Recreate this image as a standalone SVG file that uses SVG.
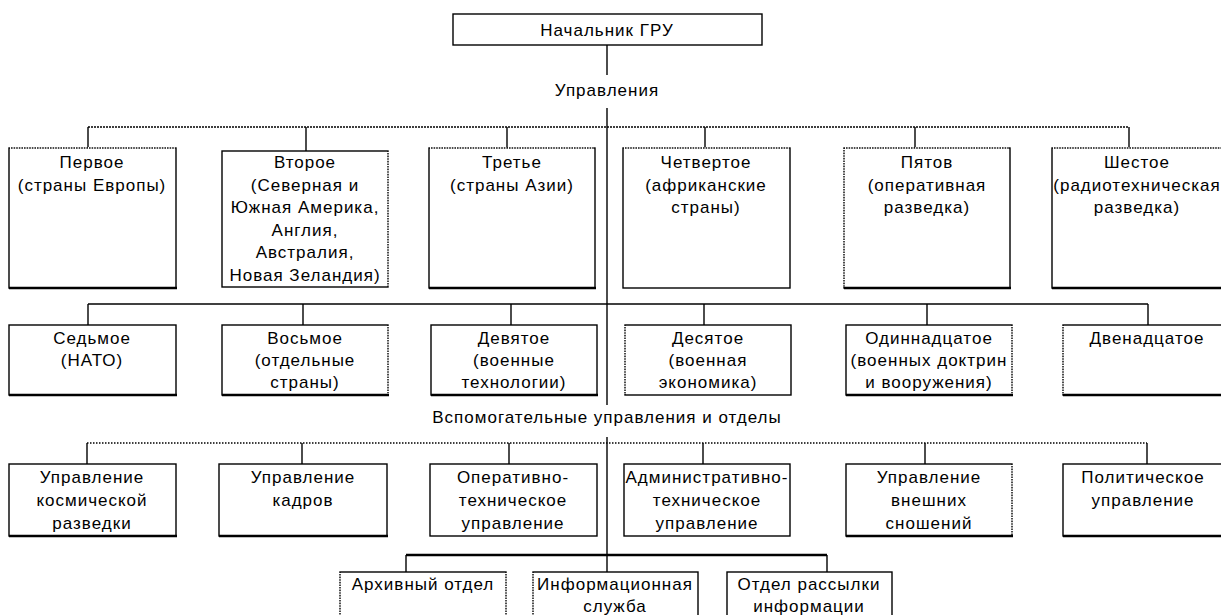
<svg xmlns="http://www.w3.org/2000/svg" width="1221" height="615" viewBox="0 0 1221 615">
<style>
  .box { fill: #fff; stroke: #000; stroke-width: 1.4; }
  .bot { stroke: #000; stroke-width: 2.4; fill: none; }
  .dot { stroke: #fff; stroke-width: 2; stroke-dasharray: 1 1.6; fill: none; }
  .ln { stroke: #000; stroke-width: 1.4; fill: none; }
  .dl { stroke: #000; stroke-width: 1.4; fill: none; stroke-dasharray: 2 1; }
  .dl2 { stroke: #000; stroke-width: 1.4; fill: none; stroke-dasharray: 1.5 1.5; }
  .thick { stroke: #000; stroke-width: 2.4; fill: none; }
  text { font-family: "Liberation Sans", Arial, sans-serif; font-size: 17px; letter-spacing: 1px; fill: #000; text-anchor: middle; }
</style>
<rect x="0" y="0" width="1221" height="615" fill="#fff"/>

<g id="connectors">
  <line class="ln" x1="607" y1="45" x2="607" y2="75"/>
  <line class="ln" x1="607" y1="108" x2="607" y2="405"/>
  <line class="ln" x1="607" y1="437" x2="607" y2="572"/>
  <!-- tier 1 -->
  <line class="dl" x1="88" y1="127" x2="1129" y2="127"/>
  <line class="ln" x1="88" y1="127" x2="88" y2="148"/>
  <line class="ln" x1="306" y1="127" x2="306" y2="151"/>
  <line class="ln" x1="507" y1="127" x2="507" y2="148"/>
  <line class="ln" x1="705" y1="127" x2="705" y2="148"/>
  <line class="ln" x1="915" y1="127" x2="915" y2="148"/>
  <line class="ln" x1="1129" y1="127" x2="1129" y2="148"/>
  <!-- tier 2 -->
  <line class="ln" x1="88" y1="304" x2="1148" y2="304"/>
  <line class="ln" x1="88" y1="304" x2="88" y2="325"/>
  <line class="ln" x1="303" y1="304" x2="303" y2="325"/>
  <line class="ln" x1="511" y1="304" x2="511" y2="325"/>
  <line class="ln" x1="704" y1="304" x2="704" y2="325"/>
  <line class="ln" x1="927" y1="304" x2="927" y2="325"/>
  <line class="ln" x1="1148" y1="304" x2="1148" y2="325"/>
  <!-- tier 3 -->
  <line class="dl2" x1="87" y1="443" x2="1147" y2="443"/>
  <line class="ln" x1="87" y1="443" x2="87" y2="464"/>
  <line class="ln" x1="302" y1="443" x2="302" y2="464"/>
  <line class="ln" x1="509" y1="443" x2="509" y2="464"/>
  <line class="ln" x1="703" y1="443" x2="703" y2="464"/>
  <line class="ln" x1="925" y1="443" x2="925" y2="464"/>
  <line class="ln" x1="1147" y1="443" x2="1147" y2="464"/>
  <!-- tier 4 -->
  <line class="thick" x1="406" y1="555" x2="827" y2="555"/>
  <line class="ln" x1="406" y1="555" x2="406" y2="572"/>
  <line class="ln" x1="827" y1="555" x2="827" y2="572"/>
</g>

<g id="labels">
  <text x="607" y="96">Управления</text>
  <text x="607" y="423">Вспомогательные управления и отделы</text>
</g>

<g id="n-chief">
  <rect class="box" x="453" y="14" width="309" height="31"/>
  <text x="607" y="36">Начальник ГРУ</text>
</g>

<!-- Tier 1 -->
<g id="n-1">
  <rect class="box" x="9" y="148" width="167" height="140"/>
  <line class="bot" x1="9" y1="288" x2="177" y2="288"/>
  <line class="dot" x1="10" y1="148" x2="175" y2="148"/>
  <text x="92" y="168">Первое</text>
  <text x="92" y="190.5">(страны Европы)</text>
</g>
<g id="n-2">
  <rect class="box" x="222" y="151" width="166" height="136"/>
  <line class="dot" x1="388" y1="152" x2="388" y2="286"/>
  <text x="305" y="168">Второе</text>
  <text x="305" y="190.5">(Северная и</text>
  <text x="305" y="213">Южная Америка,</text>
  <text x="305" y="235.5">Англия,</text>
  <text x="305" y="258">Австралия,</text>
  <text x="305" y="280.5">Новая Зеландия)</text>
</g>
<g id="n-3">
  <rect class="box" x="429" y="148" width="166" height="140"/>
  <line class="bot" x1="429" y1="288" x2="596" y2="288"/>
  <line class="dot" x1="430" y1="148" x2="594" y2="148"/>
  <text x="512" y="168">Третье</text>
  <text x="512" y="190.5">(страны Азии)</text>
</g>
<g id="n-4">
  <rect class="box" x="623" y="148" width="167" height="140"/>
  <line class="dot" x1="624" y1="148" x2="789" y2="148"/>
  <text x="706" y="168">Четвертое</text>
  <text x="706" y="190.5">(африканские</text>
  <text x="706" y="213">страны)</text>
</g>
<g id="n-5">
  <rect class="box" x="844" y="148" width="166" height="140"/>
  <line class="bot" x1="844" y1="288" x2="1011" y2="288"/>
  <line class="dot" x1="845" y1="148" x2="1009" y2="148"/>
  <line class="dot" x1="844" y1="149" x2="844" y2="287"/>
  <text x="927" y="168">Пятов</text>
  <text x="927" y="190.5">(оперативная</text>
  <text x="927" y="213">разведка)</text>
</g>
<g id="n-6">
  <rect class="box" x="1052" y="148" width="190" height="140"/>
  <line class="bot" x1="1052" y1="288" x2="1221" y2="288"/>
  <line class="dot" x1="1053" y1="148" x2="1221" y2="148"/>
  <text x="1137" y="168">Шестое</text>
  <text x="1137" y="190.5">(радиотехническая</text>
  <text x="1137" y="213">разведка)</text>
</g>

<!-- Tier 2 -->
<g id="n-7">
  <rect class="box" x="9" y="325" width="167" height="70"/>
  <line class="bot" x1="9" y1="395" x2="177" y2="395"/>
  <text x="92" y="344">Седьмое</text>
  <text x="92" y="366">(НАТО)</text>
</g>
<g id="n-8">
  <rect class="box" x="222" y="325" width="166" height="70"/>
  <line class="bot" x1="222" y1="395" x2="389" y2="395"/>
  <line class="dot" x1="388" y1="326" x2="388" y2="394"/>
  <text x="305" y="344">Восьмое</text>
  <text x="305" y="366">(отдельные</text>
  <text x="305" y="388">страны)</text>
</g>
<g id="n-9">
  <rect class="box" x="431" y="325" width="166" height="70"/>
  <line class="bot" x1="431" y1="395" x2="598" y2="395"/>
  <text x="514" y="344">Девятое</text>
  <text x="514" y="366">(военные</text>
  <text x="514" y="388">технологии)</text>
</g>
<g id="n-10">
  <rect class="box" x="625" y="325" width="166" height="70"/>
  <line class="dot" x1="625" y1="326" x2="625" y2="394"/>
  <text x="708" y="344">Десятое</text>
  <text x="708" y="366">(военная</text>
  <text x="708" y="388">экономика)</text>
</g>
<g id="n-11">
  <rect class="box" x="846" y="325" width="166" height="70"/>
  <line class="bot" x1="846" y1="395" x2="1013" y2="395"/>
  <line class="dot" x1="1012" y1="326" x2="1012" y2="394"/>
  <text x="929" y="344">Одиннадцатое</text>
  <text x="929" y="366">(военных доктрин</text>
  <text x="929" y="388">и вооружения)</text>
</g>
<g id="n-12">
  <rect class="box" x="1063" y="325" width="180" height="70"/>
  <line class="bot" x1="1063" y1="395" x2="1221" y2="395"/>
  <line class="dot" x1="1063" y1="326" x2="1063" y2="394"/>
  <text x="1147" y="344">Двенадцатое</text>
</g>

<!-- Tier 3 -->
<g id="n-space">
  <rect class="box" x="9" y="464" width="167" height="72"/>
  <line class="bot" x1="9" y1="536" x2="177" y2="536"/>
  <text x="92" y="483">Управление</text>
  <text x="92" y="506">космической</text>
  <text x="92" y="529">разведки</text>
</g>
<g id="n-cadres">
  <rect class="box" x="219" y="464" width="168" height="72"/>
  <line class="bot" x1="219" y1="536" x2="388" y2="536"/>
  <text x="303" y="483">Управление</text>
  <text x="303" y="506">кадров</text>
</g>
<g id="n-optech">
  <rect class="box" x="430" y="464" width="167" height="72"/>
  <text x="513" y="483">Оперативно-</text>
  <text x="513" y="506">техническое</text>
  <text x="513" y="529">управление</text>
</g>
<g id="n-admtech">
  <rect class="box" x="624" y="464" width="166" height="72"/>
  <text x="707" y="483">Административно-</text>
  <text x="707" y="506">техническое</text>
  <text x="707" y="529">управление</text>
</g>
<g id="n-ext">
  <rect class="box" x="846" y="464" width="166" height="72"/>
  <line class="bot" x1="846" y1="536" x2="1013" y2="536"/>
  <line class="dot" x1="1012" y1="465" x2="1012" y2="535"/>
  <text x="929" y="483">Управление</text>
  <text x="929" y="506">внешних</text>
  <text x="929" y="529">сношений</text>
</g>
<g id="n-pol">
  <rect class="box" x="1063" y="464" width="180" height="72"/>
  <line class="bot" x1="1063" y1="536" x2="1221" y2="536"/>
  <text x="1143" y="483">Политическое</text>
  <text x="1143" y="506">управление</text>
</g>

<!-- Tier 4 -->
<g id="n-archive">
  <rect class="box" x="340" y="572" width="166" height="60"/>
  <line class="dot" x1="340" y1="573" x2="340" y2="615"/>
  <line class="dot" x1="506" y1="573" x2="506" y2="615"/>
  <text x="423" y="590">Архивный отдел</text>
</g>
<g id="n-info">
  <rect class="box" x="533" y="572" width="165" height="60"/>
  <line class="dot" x1="533" y1="573" x2="533" y2="615"/>
  <text x="615" y="590">Информационная</text>
  <text x="615" y="612">служба</text>
</g>
<g id="n-mail">
  <rect class="box" x="727" y="572" width="165" height="60"/>
  <text x="809" y="590">Отдел рассылки</text>
  <text x="809" y="612">информации</text>
</g>
</svg>
